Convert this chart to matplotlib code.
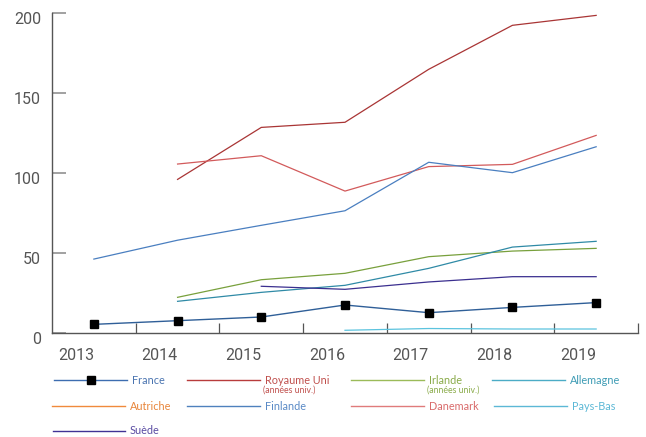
import numpy as np
import matplotlib
matplotlib.use("Agg")
import matplotlib.pyplot as plt
import matplotlib.transforms as mtransforms
from matplotlib.lines import Line2D

years = ["2013", "2014", "2015", "2016", "2017", "2018", "2019"]
nan = np.nan
france = [5.4, 7.7, 10.0, 17.5, 12.7, 16.0, 19.0]
royaume_uni = [nan, 96.0, 128.5, 131.7, 164.8, 192.3, 198.5]
irlande = [nan, 22.3, 33.3, 37.3, 47.7, 51.2, 52.9]
allemagne = [nan, 19.8, 25.4, 29.8, 40.4, 53.7, 57.3]
autriche = [nan, nan, nan, nan, nan, nan, nan]
finlande = [46.2, 58.0, 67.3, 76.4, 106.7, 100.2, 116.4]
danemark = [nan, 105.6, 110.8, 88.7, 104.0, 105.4, 123.5]
pays_bas = [nan, nan, nan, 1.7, 2.8, 2.5, 2.5]
suede = [nan, nan, 29.2, 27.3, 31.9, 35.2, 35.2]
yticks = [0, 50, 100, 150, 200]

W, H = 646, 437
fig = plt.figure(figsize=(W / 100, H / 100), dpi=100)
ax = fig.add_axes([52 / W, 1 - 333 / H, (638 - 52) / W, (333 - 13) / H])

x = np.arange(len(years))
series = [
    ("Royaume Uni", royaume_uni, "#a93535"),
    ("Danemark", danemark, "#d25a5b"),
    ("Finlande", finlande, "#4a7fc0"),
    ("Irlande", irlande, "#78a03c"),
    ("Allemagne", allemagne, "#2f8aa6"),
    ("Suède", suede, "#3b2f8f"),
    ("Pays-Bas", pays_bas, "#5bc3de"),
    ("Autriche", autriche, "#f79646"),
]
for name, vals, col in series:
    ax.plot(x, vals, color=col, lw=0.9)
ax.plot(x, france, color="#2f5f98", lw=1.0, marker="s", markersize=5.3,
        markerfacecolor="black", markeredgecolor="black")

ax.set_xlim(-0.5, len(years) - 0.5)
ax.set_ylim(0, 200)
for s in ["top", "right"]:
    ax.spines[s].set_visible(False)
for s in ["left", "bottom"]:
    ax.spines[s].set_color("#555555")
    ax.spines[s].set_linewidth(1.0)

ax.set_yticks(yticks)
ax.set_yticklabels([str(v) for v in yticks])
ax.tick_params(axis="y", direction="in", length=10, width=1.3, color="#9a9a9a",
               pad=8, labelsize=11.5, labelcolor="#555555")
# category boundaries as tick marks
ax.set_xticks(np.arange(0.5, len(years), 1.0))
ax.set_xticklabels([])
ax.tick_params(axis="x", which="major", direction="in", length=7, width=0.9,
               color="#555555")
ax.set_xticks(x - 0.215, minor=True)
ax.set_xticklabels(years, minor=True)
ax.tick_params(axis="x", which="minor", length=0, pad=11, labelsize=11.5,
               labelcolor="#555555")
offset = mtransforms.ScaledTranslation(0, -5 / 100, fig.dpi_scale_trans)
for lab in ax.get_yticklabels():
    lab.set_fontfamily("Roboto")
    lab.set_transform(lab.get_transform() + offset)
for lab in ax.get_xticklabels(minor=True):
    lab.set_fontfamily("Roboto")

# legend
legend_items = [
    ("France", "#3d6db0", "#4a74b0", 54, 127, 380, True, None),
    ("Royaume Uni", "#b83c3c", "#c0504d", 187, 260, 380, False, "(années univ.)"),
    ("Irlande", "#9bbb59", "#8aab4a", 351, 424, 380, False, "(années univ.)"),
    ("Allemagne", "#4bacc6", "#3f9cb5", 492, 565, 380, False, None),
    ("Autriche", "#f08a3c", "#e8853a", 52, 125, 406, False, None),
    ("Finlande", "#4f81bd", "#5a8ac6", 187, 260, 406, False, None),
    ("Danemark", "#e07b7b", "#d96b6b", 351, 424, 406, False, None),
    ("Pays-Bas", "#5cb8d6", "#5cb8d6", 494, 567, 406, False, None),
    ("Suède", "#403294", "#5a4ca3", 53, 125, 431, False, None),
]
for name, lc, tc, x0, x1, yy, mk, sub in legend_items:
    fy = 1 - yy / H
    fig.add_artist(Line2D([x0 / W, x1 / W], [fy, fy], transform=fig.transFigure,
                          color=lc, lw=1.0))
    if mk:
        xm = (x0 + x1) / 2 / W
        fig.add_artist(Line2D([xm], [fy], transform=fig.transFigure, marker="s",
                              markersize=5.3, color="black", lw=0))
    fig.text((x1 + 5) / W, fy, name, color=tc, fontsize=7.8, family="Lato",
             va="center", ha="left")
    if sub:
        fig.text((x1 + 3) / W, 1 - (yy + 10) / H, sub, color=tc, fontsize=6.3,
                 family="Lato", va="center", ha="left")

fig.savefig("out.png", dpi=100)
